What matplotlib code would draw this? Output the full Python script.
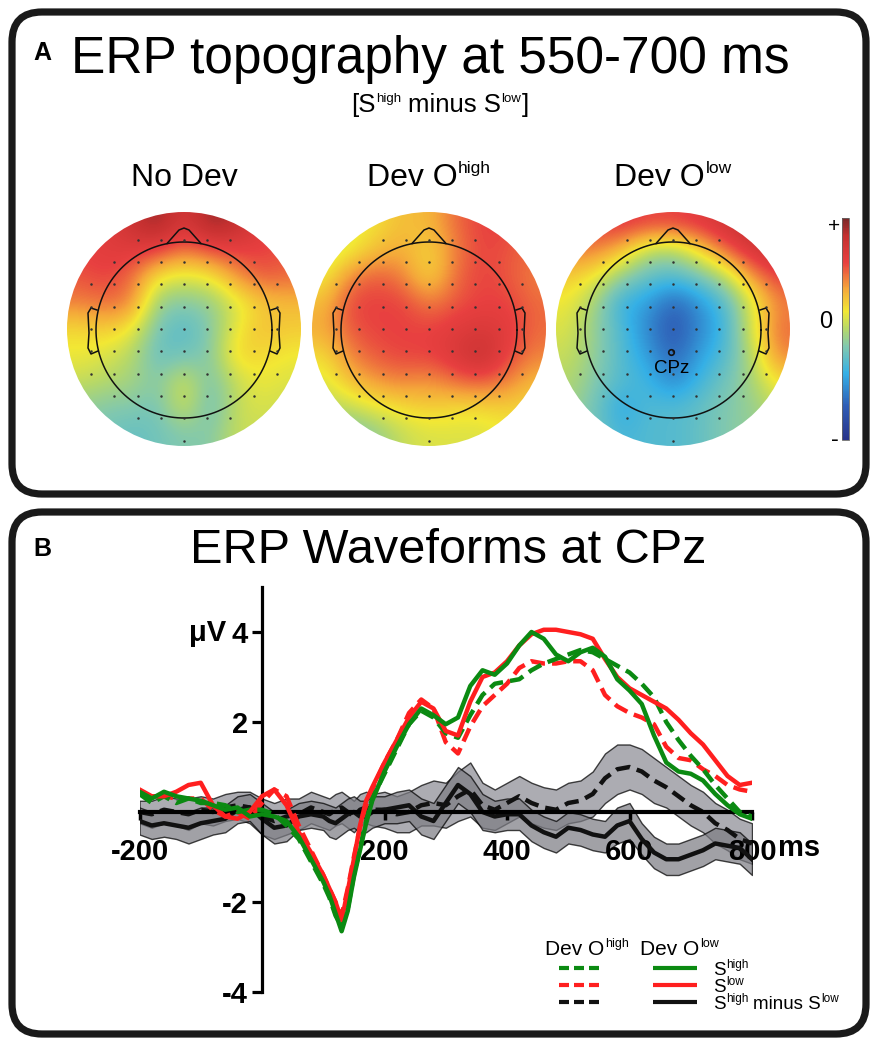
import matplotlib
matplotlib.use('Agg')
import matplotlib.pyplot as plt
import numpy as np
from matplotlib.patches import FancyBboxPatch, Circle
from matplotlib.colors import LinearSegmentedColormap
from matplotlib.lines import Line2D

plt.rcParams['font.family'] = ['Liberation Sans', 'DejaVu Sans']
plt.rcParams['axes.unicode_minus'] = False

# ---------------- data: topographies (rows top->bottom, cols left->right) -------------
topo_titles = ["No Dev", "Dev O", "Dev O"]
topo_sup = ["", "high", "low"]
topo_nodev = [
    [0.60, 0.65, 0.80, 0.95, 0.70, 0.95, 0.85, 0.65, 0.60],
    [0.60, 0.65, 0.65, 0.60, 0.45, 0.55, 0.60, 0.60, 0.55],
    [0.55, 0.60, 0.50, 0.15, 0.10, 0.15, 0.40, 0.55, 0.50],
    [0.45, 0.50, 0.45, -0.10, -0.15, -0.10, 0.10, 0.25, 0.30],
    [0.20, 0.25, 0.15, -0.20, -0.30, -0.15, 0.15, 0.30, 0.25],
    [0.15, 0.10, 0.00, -0.25, -0.20, -0.15, 0.25, 0.20, 0.15],
    [0.05, 0.00, -0.05, -0.15, 0.10, -0.20, 0.05, 0.15, 0.10],
    [-0.10, -0.15, -0.15, -0.20, 0.10, -0.25, 0.05, 0.10, 0.05],
    [-0.15, -0.20, -0.25, -0.20, -0.15, -0.15, 0.05, 0.05, 0.00],
]
topo_devohigh = [
    [0.00, 0.10, 0.20, 0.30, 0.30, 0.50, 0.60, 0.60, 0.50],
    [0.05, 0.15, 0.30, 0.35, 0.20, 0.45, 0.60, 0.55, 0.50],
    [0.15, 0.45, 0.55, 0.45, 0.20, 0.50, 0.60, 0.55, 0.45],
    [0.30, 0.60, 0.60, 0.60, 0.45, 0.55, 0.60, 0.60, 0.50],
    [0.35, 0.55, 0.60, 0.60, 0.60, 0.65, 0.70, 0.65, 0.50],
    [0.20, 0.45, 0.55, 0.60, 0.60, 0.70, 0.85, 0.60, 0.45],
    [0.10, 0.30, 0.40, 0.45, 0.40, 0.50, 0.55, 0.45, 0.30],
    [0.00, 0.05, 0.15, 0.20, 0.25, 0.20, 0.20, 0.25, 0.20],
    [-0.15, -0.20, -0.10, 0.05, 0.10, 0.10, 0.10, 0.15, 0.10],
]
topo_devolow = [
    [0.60, 0.60, 0.65, 0.60, 0.60, 0.65, 0.75, 0.85, 0.90],
    [0.45, 0.45, 0.30, 0.00, -0.05, 0.20, 0.50, 0.70, 0.80],
    [0.25, 0.15, -0.10, -0.25, -0.30, -0.20, 0.00, 0.40, 0.60],
    [0.15, -0.05, -0.40, -0.45, -0.70, -0.50, -0.30, 0.10, 0.45],
    [0.10, -0.10, -0.30, -0.55, -0.75, -0.55, -0.35, 0.10, 0.50],
    [0.05, -0.10, -0.30, -0.45, -0.70, -0.45, -0.30, 0.00, 0.45],
    [0.00, -0.15, -0.30, -0.35, -0.55, -0.35, -0.20, -0.05, 0.20],
    [-0.05, -0.20, -0.45, -0.30, -0.30, -0.25, -0.15, -0.10, 0.05],
    [-0.10, -0.20, -0.35, -0.30, -0.30, -0.25, -0.15, -0.10, -0.05],
]

# ---------------- data: waveforms at CPz (ms, µV) ----------------
times = [-200, -180, -160, -140, -120, -100, -80, -60, -40, -20, 0, 20, 40, 60, 80, 100,
         110, 120, 130, 140, 150, 160, 170, 180,
         200, 220, 240, 260, 280, 300, 320, 340, 360, 380,
         400, 420, 440, 460, 480, 500, 520, 540, 560, 580,
         600, 620, 640, 660, 680, 700, 720, 740, 760, 780, 800]

# Dev O-low : solid
lo_shigh = [0.45, 0.30, 0.45, 0.35, 0.30, 0.25, 0.15, 0.05, 0.10, -0.10, -0.05, -0.10, -0.20, -0.55, -1.05, -1.55,
            -1.85, -2.25, -2.65, -2.20, -1.45, -0.85, -0.25, 0.25,
            0.90, 1.45, 1.95, 2.30, 2.15, 1.95, 2.10, 2.80, 3.15, 3.05,
            3.30, 3.70, 4.00, 3.85, 3.50, 3.35, 3.55, 3.65, 3.45, 2.95,
            2.70, 2.40, 1.70, 1.10, 0.90, 0.85, 0.70, 0.40, 0.15, -0.05, -0.15]
lo_slow = [0.50, 0.35, 0.35, 0.45, 0.60, 0.65, 0.15, -0.10, -0.15, 0.00, 0.35, 0.50, 0.15, -0.45, -0.90, -1.40,
           -1.70, -2.00, -2.40, -1.75, -1.05, -0.30, 0.25, 0.55,
           1.10, 1.60, 2.10, 2.45, 2.30, 1.80, 1.70, 2.45, 3.00, 3.10,
           3.35, 3.70, 3.95, 4.05, 4.05, 4.00, 3.95, 3.85, 3.40, 3.00,
           2.75, 2.60, 2.45, 2.30, 2.05, 1.75, 1.50, 1.15, 0.80, 0.60, 0.65]
lo_diff = [-0.20, -0.30, -0.25, -0.30, -0.35, -0.25, -0.20, -0.15, 0.05, 0.10, -0.15, -0.35, -0.30, -0.10, -0.05, -0.10,
           -0.20, -0.25, -0.15, -0.05, 0.00, -0.10, -0.10, 0.00,
           0.05, 0.10, 0.15, -0.10, -0.20, 0.20, 0.60, 0.40, 0.00, -0.10,
           -0.05, -0.05, -0.30, -0.45, -0.55, -0.35, -0.40, -0.50, -0.55, -0.30,
           -0.20, -0.60, -0.90, -1.05, -1.05, -0.95, -0.85, -0.70, -0.75, -0.80, -1.05]
lo_se = [0.30, 0.30, 0.30, 0.30, 0.35, 0.35, 0.30, 0.30, 0.30, 0.30, 0.35, 0.35, 0.35, 0.30, 0.30, 0.30,
         0.35, 0.35, 0.35, 0.35, 0.35, 0.35, 0.35, 0.35,
         0.30, 0.35, 0.35, 0.40, 0.40, 0.40, 0.40, 0.40, 0.40, 0.35,
         0.35, 0.35, 0.35, 0.35, 0.35, 0.35, 0.35, 0.35, 0.35, 0.40,
         0.40, 0.35, 0.35, 0.35, 0.35, 0.35, 0.35, 0.35, 0.35, 0.35, 0.35]

# Dev O-high : dashed
hi_shigh = [0.40, 0.20, 0.35, 0.20, 0.30, 0.20, 0.20, 0.15, 0.00, 0.05, 0.05, -0.05, -0.30, -0.60, -1.10, -1.60,
            -1.90, -2.30, -2.55, -2.15, -1.40, -0.80, -0.20, 0.30,
            0.85, 1.40, 1.95, 2.25, 2.10, 1.75, 1.65, 2.15, 2.60, 2.85,
            2.90, 2.95, 3.15, 3.30, 3.40, 3.50, 3.60, 3.55, 3.40, 3.25,
            3.10, 2.85, 2.55, 2.00, 1.60, 1.25, 0.95, 0.60, 0.30, 0.00, -0.10]
hi_slow = [0.45, 0.30, 0.35, 0.30, 0.30, 0.30, 0.05, -0.10, 0.00, -0.15, 0.20, 0.50, 0.35, -0.30, -0.85, -1.40,
           -1.70, -2.00, -2.30, -1.70, -1.00, -0.35, 0.15, 0.50,
           1.10, 1.60, 2.20, 2.50, 2.30, 1.55, 1.30, 1.90, 2.35, 2.60,
           2.85, 3.20, 3.35, 3.30, 3.30, 3.35, 3.35, 3.15, 2.60, 2.35,
           2.20, 2.10, 1.95, 1.45, 1.20, 1.15, 0.95, 0.80, 0.60, 0.50, 0.45]
hi_diff = [0.00, -0.05, 0.05, 0.00, -0.05, 0.05, 0.00, 0.10, 0.15, 0.10, -0.10, -0.20, -0.10, -0.05, 0.10, 0.00,
           -0.05, 0.05, 0.10, 0.00, -0.10, 0.05, 0.10, 0.05,
           0.05, -0.05, 0.00, 0.15, 0.20, 0.15, 0.35, 0.50, 0.15, 0.05,
           0.20, 0.35, 0.20, 0.10, 0.05, 0.20, 0.25, 0.40, 0.75, 0.95,
           1.00, 0.90, 0.70, 0.55, 0.35, 0.15, 0.00, -0.25, -0.40, -0.60, -0.70]
hi_se = [0.25, 0.30, 0.30, 0.30, 0.35, 0.30, 0.30, 0.30, 0.30, 0.35, 0.40, 0.40, 0.40, 0.35, 0.35, 0.35,
         0.35, 0.35, 0.35, 0.35, 0.35, 0.35, 0.35, 0.35,
         0.40, 0.40, 0.45, 0.45, 0.50, 0.50, 0.55, 0.60, 0.50, 0.45,
         0.45, 0.45, 0.45, 0.45, 0.45, 0.45, 0.45, 0.50, 0.55, 0.55,
         0.50, 0.50, 0.50, 0.45, 0.45, 0.45, 0.45, 0.45, 0.45, 0.45, 0.45]

x_ticks = [-200, 200, 400, 600, 800]
x_ticklabels = ["-200", "200", "400", "600", "800"]
y_ticks = [-4, -2, 2, 4]
y_ticklabels = ["-4", "-2", "2", "4"]

GREEN = '#0b8a12'
RED = '#ff1f1f'
BLACK = '#111111'

# ---------------- figure ----------------
W, H = 871, 1039
fig = plt.figure(figsize=(W / 100, H / 100), dpi=100)
bg = fig.add_axes([0, 0, 1, 1])
bg.set_xlim(0, W)
bg.set_ylim(H, 0)
bg.axis('off')
bg.set_autoscale_on(False)
renderer = fig.canvas.get_renderer()


def rich(x, y, segs, ha='center', weight='normal'):
    items = []
    total = 0.0
    for s, fs, rise, gap in segs:
        total += gap * fs * 100 / 72
        t = bg.text(0, y - rise, s, fontsize=fs, va='baseline', ha='left', fontweight=weight)
        w = t.get_window_extent(renderer=renderer).width
        items.append((t, total))
        total += w
    x0 = x - total / 2 if ha == 'center' else x
    for t, off in items:
        t.set_x(x0 + off)


# panel frames
for (x0, y0, w, h) in [(12, 12, 854, 482), (12, 512, 854, 522)]:
    bg.add_patch(FancyBboxPatch((x0, y0), w, h, boxstyle="round,pad=0,rounding_size=30",
                                fc='none', ec='#1a1a1a', lw=5.2, zorder=5))

# panel labels and titles
bg.text(42, 60, "A", fontsize=18, fontweight='bold', ha='center', va='baseline')
bg.text(42, 556, "B", fontsize=18, fontweight='bold', ha='center', va='baseline')
bg.text(430, 73, "ERP topography at 550-700 ms", fontsize=37, ha='center', va='baseline')
rich(440, 112, [("[S", 18.5, 0, 0), ("high", 9.5, 10, 0.04), ("minus S", 18.5, 0, 0.26),
                ("low", 9.5, 10, 0.04), ("]", 18.5, 0, 0.04)])
bg.text(448, 563, "ERP Waveforms at CPz", fontsize=35, ha='center', va='baseline')

# colormap
cmap = LinearSegmentedColormap.from_list('topo', [
    (0.00, '#28338a'), (0.15, '#2f5cb5'), (0.30, '#35b0e6'), (0.42, '#80c8b0'),
    (0.50, '#b5d86a'), (0.58, '#f2e834'), (0.68, '#f5a83a'), (0.80, '#e84040'),
    (0.92, '#c43030'), (1.00, '#7a2828')])

centers = [184, 429, 673]
CY, R, RH = 329, 117, 88
topos = [topo_nodev, topo_devohigh, topo_devolow]

im = None
for cx, grid, title, sup in zip(centers, topos, topo_titles, topo_sup):
    im = bg.imshow(np.array(grid), cmap=cmap, vmin=-1, vmax=1, interpolation='bicubic',
                   extent=(cx - R, cx + R, CY + R, CY - R), origin='upper', aspect='auto', zorder=1)
    clip = Circle((cx, CY), R, transform=bg.transData)
    im.set_clip_path(clip)
    # head outline
    th = np.linspace(0, 2 * np.pi, 300)
    bg.plot(cx + RH * np.cos(th), CY + 1 + RH * np.sin(th), color='#111', lw=1.1, zorder=3)
    nose_x = [cx - 17, cx - 5, cx, cx + 5, cx + 17]
    nose_y = [CY + 1 - 86.5, CY + 1 - 100, CY + 1 - 102, CY + 1 - 100, CY + 1 - 86.5]
    bg.plot(nose_x, nose_y, color='#111', lw=1.1, zorder=3)
    for sgn in (-1, 1):
        ex = [cx + sgn * 87, cx + sgn * 93, cx + sgn * 96, cx + sgn * 95, cx + sgn * 96,
              cx + sgn * 93, cx + sgn * 86]
        ey = [CY - 19, CY - 21, CY - 16, CY + 4, CY + 19, CY + 25, CY + 22]
        bg.plot(ex, ey, color='#111', lw=1.1, zorder=3)
    # electrode dots
    ex_list, ey_list = [], []
    for j in range(-4, 6):
        for k in range(-5, 6):
            dx, dy = k * 23.2, j * 22.3
            if dx * dx + dy * dy <= 112 ** 2:
                ex_list.append(cx + dx)
                ey_list.append(CY + dy)
    bg.plot(ex_list, ey_list, 'o', ms=0.8, color='#333', zorder=3)
    # title
    segs = [(title, 23, 0, 0)]
    if sup:
        segs.append((sup, 12.5, 13, 0.04))
    rich(cx, 186, segs)

# CPz marker
bg.plot([centers[2] - 2], [CY + 23], 'o', ms=4, mfc='none', mec='#111', mew=1.2, zorder=4)
bg.text(centers[2] - 1, 373, "CPz", fontsize=13.5, ha='center', va='baseline', zorder=4)

# colorbar
cax = fig.add_axes([842 / W, 1 - 440 / H, 7 / W, 222 / H])
cb = fig.colorbar(im, cax=cax)
cb.set_ticks([])
cb.outline.set_linewidth(0.6)
cb.outline.set_edgecolor('#666')
bg.text(834, 226, "+", fontsize=15, ha='center', va='center')
bg.text(826, 322, "0", fontsize=17, ha='center', va='center')
bg.text(835, 440, "-", fontsize=17, ha='center', va='center')

# ---------------- waveform axes ----------------
ax = fig.add_axes([139.5 / W, 47 / H, 612.5 / W, 405 / H])
ax.set_facecolor('none')
ax.set_xlim(-200, 800)
ax.set_ylim(-4, 5)

t = np.array(times)
for m, se, col in [(hi_diff, hi_se, '#8d8d95'), (lo_diff, lo_se, '#7d7d84')]:
    m = np.array(m)
    se = np.array(se)
    ax.fill_between(t, m - se, m + se, facecolor=col, alpha=0.72, edgecolor='black', lw=1.0, zorder=1)

LW = 3.2
DASH = (3.2, 1.6)
ax.plot(t, lo_diff, color=BLACK, lw=LW, zorder=2)
ax.plot(t, hi_diff, color=BLACK, lw=LW, dashes=DASH, zorder=2)
ax.plot(t, hi_slow, color=RED, lw=LW, dashes=DASH, zorder=3)
ax.plot(t, hi_shigh, color=GREEN, lw=LW, dashes=DASH, zorder=3)
ax.plot(t, lo_slow, color=RED, lw=LW, zorder=3.1)
ax.plot(t, lo_shigh, color=GREEN, lw=LW, zorder=3.2)

for s in ['top', 'right']:
    ax.spines[s].set_visible(False)
ax.spines['left'].set_position(('data', 0))
ax.spines['left'].set_bounds(-4, 5)
ax.spines['left'].set_linewidth(2.3)
ax.spines['bottom'].set_position(('data', 0))
ax.spines['bottom'].set_bounds(-200, 800)
ax.spines['bottom'].set_linewidth(3.0)
ax.set_xticks(x_ticks)
ax.set_xticklabels(x_ticklabels, fontsize=21, fontweight='bold')
ax.set_yticks(y_ticks)
ax.set_yticklabels(y_ticklabels, fontsize=21, fontweight='bold')
ax.tick_params(axis='x', direction='out', length=6, width=2.5, pad=13)
ax.tick_params(axis='y', direction='out', length=7, width=2.3, pad=3)

bg.text(778, 848, "ms", fontsize=21, fontweight='bold', ha='left', va='center')
bg.text(226, 633, "μV", fontsize=21, fontweight='bold', ha='right', va='center')

# ---------------- legend ----------------
rich(545, 955, [("Dev O", 15, 0, 0), ("high", 9, 8, 0.04)], ha='left')
rich(640, 955, [("Dev O", 15, 0, 0), ("low", 9, 8, 0.04)], ha='left')
leg_rows = [(968, GREEN), (985, RED), (1002, BLACK)]
for yy, col in leg_rows:
    bg.add_line(Line2D([559, 603], [yy, yy], color=col, lw=3.0, dashes=(2.4, 1.2), zorder=4))
    bg.add_line(Line2D([653, 697], [yy, yy], color=col, lw=3.0, solid_capstyle='butt', zorder=4))
rich(713, 975, [("S", 13.5, 0, 0), ("high", 8.5, 7, 0.03)], ha='left')
rich(713, 992, [("S", 13.5, 0, 0), ("low", 8.5, 7, 0.03)], ha='left')
rich(713, 1009, [("S", 13.5, 0, 0), ("high", 8.5, 7, 0.03), ("minus S", 13.5, 0, 0.25),
                 ("low", 8.5, 7, 0.03)], ha='left')

bg.set_xlim(0, W)
bg.set_ylim(H, 0)
fig.savefig('out.png', dpi=100)
